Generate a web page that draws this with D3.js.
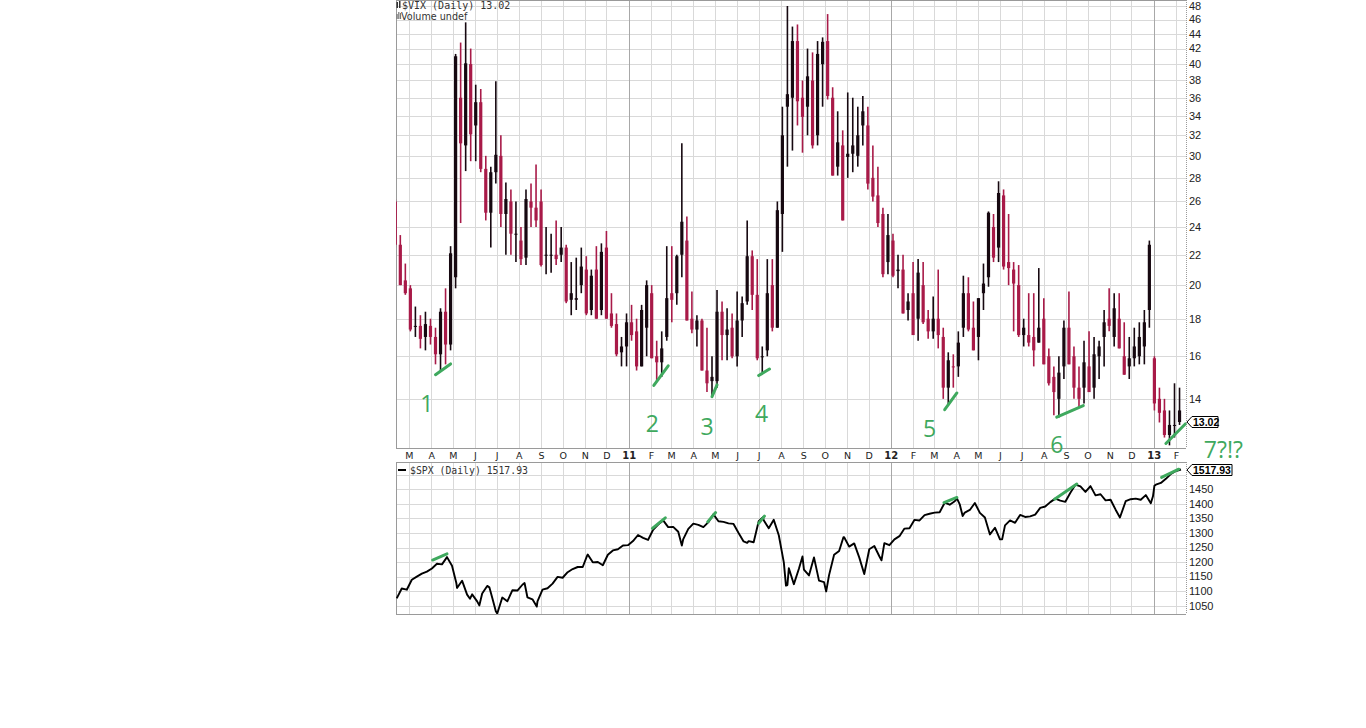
<!DOCTYPE html>
<html>
<head>
<meta charset="utf-8">
<script src="https://cdn.jsdelivr.net/npm/d3@7"></script>
<style>
	body { margin: 0; background: #fff; }
	svg { display: block; }
</style>
</head>
<body>
<script>
(function () {
	"use strict";

	// weekly VIX bars, one per week (Friday close), Feb 2010 - Feb 2013
	let vixOpen = [
		26.0, 22.7, 20.3, 19.8, 17.6, 17.6, 17.0, 17.6, 17.0, 16.1, 18.4, 16.6, 20.5, 36.0, 31.0, 40.0, 33.0, 35.5, 28.8, 25.1, 28.5, 30.0, 25.0, 26.0, 23.5, 23.0, 21.8, 26.0, 25.5, 26.0, 22.0, 22.0, 22.0, 22.0, 22.5, 19.5, 19.2, 20.0, 21.0, 18.5, 21.0, 18.5, 22.5, 18.3, 17.7, 16.2, 16.5,
		17.8, 17.3, 15.5, 17.5, 19.5, 16.0, 15.7, 17.0, 19.5, 19.5, 22.0, 23.0, 18.0, 17.4, 17.9, 15.3, 15.0, 14.8, 18.4, 17.1, 17.5, 16.0, 17.9, 19.0, 21.9, 19.4, 16.0, 16.3, 20.0, 17.5, 25.0, 35.0, 36.0, 43.0, 36.0, 35.0, 38.0, 32.0, 40.0, 43.0, 36.0, 29.0, 31.0, 29.9, 31.0, 30.0, 33.0, 33.0, 28.0, 26.5, 25.0, 21.5,
		23.0, 21.0, 21.0, 19.0, 19.5, 18.0, 20.0, 18.0, 18.0, 18.0, 17.0, 14.5, 15.5, 15.5, 17.5, 19.5, 17.5, 17.0, 19.5, 20.5, 24.0, 22.5, 26.5, 21.5, 21.0, 20.0, 17.5, 17.1, 17.0, 17.5, 18.0, 16.0, 15.0, 14.0, 15.5, 17.5, 16.0, 14.5, 14.5, 15.5, 14.5, 16.0, 17.0, 18.0, 17.0, 18.0, 16.0, 15.5, 16.5, 16.0, 16.5, 18.5,
		15.9, 14.0, 13.5, 12.5, 12.9, 13.5
	];
	let vixHigh = [
		26.2, 23.4, 21.4, 20.0, 18.7, 18.2, 18.4, 18.0, 17.5, 18.6, 19.8, 22.6, 41.3, 42.8, 45.6, 42.0, 37.5, 37.0, 30.0, 29.0, 37.9, 32.0, 27.6, 27.0, 26.0, 24.0, 27.0, 27.5, 29.2, 27.0, 24.0, 23.5, 24.5, 24.0, 22.7, 21.5, 21.8, 22.5, 21.9, 21.0, 22.6, 22.8, 23.7, 19.5, 18.3, 17.0, 18.3,
		18.8, 18.0, 18.8, 20.3, 20.0, 16.8, 17.3, 22.6, 22.6, 22.0, 31.2, 24.8, 19.6, 18.2, 18.0, 17.5, 16.0, 19.7, 19.0, 18.6, 18.3, 19.6, 19.3, 24.5, 22.3, 21.7, 16.5, 21.7, 21.7, 26.0, 35.0, 48.0, 45.0, 45.3, 38.0, 42.0, 41.5, 43.0, 43.5, 46.8, 37.2, 34.5, 32.5, 36.6, 36.0, 35.0, 36.2, 35.0, 31.0, 29.0, 25.5, 25.0,
		23.5, 22.0, 22.0, 19.5, 21.5, 21.7, 21.5, 18.5, 19.3, 21.0, 17.5, 16.2, 16.1, 17.3, 20.6, 20.5, 19.0, 19.2, 21.4, 25.2, 25.0, 27.7, 27.0, 25.0, 21.5, 21.3, 18.0, 19.5, 19.5, 21.1, 19.2, 16.4, 15.5, 16.0, 17.9, 19.6, 16.5, 15.5, 16.8, 17.3, 17.0, 16.8, 18.5, 19.8, 19.5, 19.5, 17.8, 17.0, 17.5, 17.8, 18.5, 23.0,
		16.0, 14.5, 14.0, 13.5, 14.7, 14.5
	];
	let vixLow = [
		22.5, 20.0, 19.4, 17.3, 17.0, 16.4, 16.3, 16.6, 15.6, 15.3, 15.6, 16.3, 19.8, 24.3, 28.6, 29.5, 29.5, 28.5, 24.5, 22.5, 27.5, 24.0, 22.0, 22.0, 21.5, 21.3, 21.3, 24.0, 24.0, 21.2, 20.7, 20.8, 21.3, 21.5, 18.9, 18.2, 18.5, 19.5, 18.2, 18.2, 18.0, 18.2, 18.0, 17.5, 16.0, 15.5, 15.5,
		16.8, 15.3, 15.5, 16.0, 15.9, 14.8, 15.0, 16.8, 17.8, 18.8, 20.5, 17.9, 17.2, 16.5, 15.3, 14.3, 14.1, 14.5, 15.8, 15.8, 15.9, 15.5, 17.0, 18.8, 18.5, 15.8, 15.2, 16.0, 17.3, 17.5, 22.2, 29.0, 30.5, 33.0, 30.3, 32.0, 30.7, 31.0, 35.0, 35.8, 28.2, 28.2, 24.5, 28.0, 28.5, 29.0, 31.0, 27.0, 26.0, 24.0, 20.5, 20.7,
		20.5, 19.8, 18.3, 17.9, 17.1, 16.8, 17.7, 16.9, 16.9, 16.4, 14.0, 13.7, 14.5, 15.0, 17.0, 17.3, 16.3, 15.8, 18.5, 19.9, 21.5, 21.5, 21.0, 20.0, 17.3, 17.0, 16.5, 16.5, 15.5, 16.7, 15.6, 14.6, 13.3, 13.2, 14.9, 15.6, 14.0, 13.6, 13.8, 14.3, 14.0, 14.9, 15.5, 17.3, 16.5, 16.4, 15.1, 14.9, 15.5, 15.6, 15.6, 17.5,
		13.5, 13.0, 12.4, 12.1, 12.4, 12.9
	];
	let vixClose = [
		22.7, 20.0, 19.5, 17.4, 17.6, 16.9, 17.7, 17.0, 16.1, 18.4, 16.6, 22.1, 41.0, 31.2, 40.1, 32.1, 35.5, 28.8, 25.1, 28.5, 30.1, 25.0, 26.2, 23.5, 23.5, 21.7, 26.2, 25.5, 24.5, 21.3, 22.0, 22.0, 21.7, 22.5, 19.0, 19.1, 19.1, 21.2, 18.3, 20.6, 18.0, 22.2, 18.0, 17.6, 16.1, 16.5, 17.8,
		17.1, 15.5, 18.5, 20.0, 15.9, 15.7, 16.4, 19.2, 19.1, 21.9, 24.4, 17.9, 17.4, 17.9, 15.3, 14.7, 14.8, 18.4, 17.1, 17.4, 16.0, 17.9, 18.9, 21.9, 19.4, 15.9, 16.0, 19.5, 17.5, 25.3, 32.0, 36.4, 43.0, 35.6, 33.9, 38.5, 31.0, 41.3, 42.9, 36.2, 28.2, 31.3, 24.5, 30.2, 30.2, 32.0, 34.5, 27.5, 26.4, 24.3, 20.7, 23.4,
		20.6, 20.9, 18.3, 18.5, 17.1, 20.8, 17.8, 17.3, 17.3, 17.1, 14.5, 15.8, 15.5, 16.7, 19.5, 17.4, 16.3, 19.2, 20.1, 25.1, 21.8, 26.7, 21.2, 21.1, 20.1, 17.1, 17.1, 16.7, 16.3, 16.7, 15.6, 14.7, 14.3, 15.2, 17.5, 15.6, 14.5, 14.0, 15.7, 14.3, 16.1, 16.5, 17.8, 17.6, 18.6, 16.4, 15.1, 15.9, 15.9, 17.0, 17.8, 22.7,
		13.8, 13.4, 12.5, 12.9, 12.9, 13.02
	];

	// weekly S&P 500 closes, same weeks
	let spxClose = [
		1075, 1109, 1105, 1139, 1150, 1160, 1167, 1178, 1194, 1192, 1217, 1187, 1111, 1136, 1088, 1089, 1065, 1092, 1118, 1077, 1023, 1078, 1065, 1103, 1102, 1122, 1079, 1072, 1065, 1105, 1110, 1126, 1149, 1146, 1165, 1176, 1183, 1183, 1226, 1199, 1200, 1189, 1225, 1240, 1244, 1257, 1258,
		1272, 1293, 1283, 1276, 1311, 1329, 1343, 1320, 1321, 1304, 1279, 1314, 1332, 1328, 1320, 1337, 1364, 1340, 1338, 1333, 1331, 1300, 1271, 1272, 1268, 1340, 1344, 1316, 1345, 1292, 1199, 1179, 1124, 1177, 1174, 1154, 1216, 1136, 1131, 1155, 1225, 1238, 1285, 1253, 1264, 1216, 1159, 1244, 1255, 1220, 1265, 1258,
		1278, 1289, 1315, 1316, 1345, 1343, 1361, 1366, 1370, 1371, 1404, 1397, 1409, 1398, 1370, 1379, 1403, 1369, 1353, 1295, 1318, 1278, 1326, 1343, 1335, 1362, 1355, 1357, 1363, 1386, 1391, 1406, 1418, 1411, 1407, 1438, 1466, 1460, 1441, 1461, 1429, 1433, 1412, 1414, 1380, 1360, 1409, 1416, 1418, 1414, 1430, 1402,
		1466, 1472, 1486, 1503, 1513, 1517.93
	];
	// mid-week S&P turning points seen on the line
	let spxExtraDates = ['2010-05-06', '2010-05-25', '2010-06-07', '2010-06-21', '2010-06-30', '2010-08-09', '2010-08-26', '2010-11-04',
		'2011-03-16', '2011-06-15', '2011-07-07', '2011-08-08', '2011-08-10', '2011-08-31', '2011-10-03', '2011-10-27', '2011-12-19',
		'2012-04-02', '2012-04-10', '2012-06-04', '2012-11-15', '2012-12-31', '2013-01-02'];
	let spxExtraValues = [1128, 1074, 1051, 1113, 1031, 1128, 1047, 1221,
		1257, 1266, 1354, 1119, 1121, 1219, 1099, 1285, 1206,
		1419, 1358, 1278, 1353, 1426, 1462];

	let vixTicks = [14, 16, 18, 20, 22, 24, 26, 28, 30, 32, 34, 36, 38, 40, 42, 44, 46, 48];
	let vixGrid = [12, 14, 16, 18, 20, 22, 24, 26, 28, 30, 32, 34, 36, 38, 40, 42, 44, 46, 48];
	let spxTicks = [1050, 1100, 1150, 1200, 1250, 1300, 1350, 1400, 1450];
	let spxGrid = [1050, 1100, 1150, 1200, 1250, 1300, 1350, 1400, 1450, 1500];
	let monthLetters = ['J', 'F', 'M', 'A', 'M', 'J', 'J', 'A', 'S', 'O', 'N', 'D'];

	// hand-drawn green notes: slope under each VIX low, slope over each SPX high
	let noteLabels = ['1', '2', '3', '4', '5', '6', '7?!?'];
	let noteLabelDates = ['2010-03-26', '2011-02-03', '2011-04-20', '2011-07-05', '2012-02-24', '2012-08-19', '2013-04-08'];
	let noteLabelValues = [13.45, 12.63, 12.51, 13.03, 12.43, 11.82, 11.64];
	let vixNoteFrom = ['2010-04-07', '2011-02-05', '2011-04-27', '2011-07-01', '2012-03-16', '2012-08-19', '2013-01-18'];
	let vixNoteFromValues = [15.10, 14.60, 14.10, 15.06, 13.53, 13.22, 12.17];
	let vixNoteTo = ['2010-04-28', '2011-02-25', '2011-05-04', '2011-07-16', '2012-04-02', '2012-09-25', '2013-02-14'];
	let vixNoteToValues = [15.62, 15.53, 14.63, 15.37, 14.26, 13.71, 12.94];
	let spxNoteFrom = ['2010-04-03', '2011-02-03', '2011-04-21', '2011-07-01', '2012-03-15', '2012-08-16', '2013-01-12'];
	let spxNoteFromValues = [1207, 1316, 1338, 1333, 1404, 1416, 1491];
	let spxNoteTo = ['2010-04-23', '2011-02-21', '2011-05-02', '2011-07-09', '2012-04-02', '2012-09-16', '2013-02-05'];
	let spxNoteToValues = [1228, 1352, 1370, 1358, 1422, 1468, 1519];

	let w = 1366;
	let h = 728;
	let left = 396, right = 1186;
	let vixTop = 0, vixBottom = 448;
	let spxTop = 462, spxBottom = 614;
	let green = '#3fa95e';
	let red = '#a81a48';
	let dark = '#160810';

	let parse = d3.timeParse('%Y-%m-%d');
	let weeks = d3.timeFriday.range(new Date(2010, 1, 12), new Date(2013, 1, 9));

	let x = d3.scaleTime()
		.domain([new Date(2010, 1, 11), new Date(2013, 1, 15)])
		.range([left, right]);
	let yVix = d3.scaleLog().domain([12, 48]).range([vixBottom, 6]);
	let ySpx = d3.scaleLinear().domain([1050, 1450]).range([605.7, 489.3]);

	let svg = d3.select('body').append('svg').attr('width', w).attr('height', h);

	let defs = svg.append('defs');
	defs.append('clipPath').attr('id', 'clipVix').append('rect')
		.attr('x', left).attr('y', vixTop).attr('width', right - left).attr('height', vixBottom - vixTop);
	defs.append('clipPath').attr('id', 'clipSpx').append('rect')
		.attr('x', left).attr('y', spxTop).attr('width', right - left).attr('height', spxBottom - spxTop);

	let months = d3.timeMonth.range(new Date(2010, 2, 1), new Date(2013, 1, 15));

	// grids
	function grid(top, bottom, yScale, levels) {
		let g = svg.append('g');
		g.selectAll('line.h').data(levels).enter().append('line')
			.attr('x1', left).attr('x2', right)
			.attr('y1', (d) => Math.round(yScale(d)) + 0.5)
			.attr('y2', (d) => Math.round(yScale(d)) + 0.5)
			.attr('stroke', '#d9d9d9');
		g.selectAll('line.v').data(months).enter().append('line')
			.attr('x1', (d) => Math.round(x(d)) + 0.5)
			.attr('x2', (d) => Math.round(x(d)) + 0.5)
			.attr('y1', top).attr('y2', bottom)
			.attr('stroke', (d) => d.getMonth() === 0 ? '#a8a8a8' : '#d9d9d9');
		g.append('line').attr('x1', left + 0.5).attr('x2', left + 0.5).attr('y1', top).attr('y2', bottom).attr('stroke', '#9a9a9a');
		g.append('line').attr('x1', left).attr('x2', right).attr('y1', top + 0.5).attr('y2', top + 0.5).attr('stroke', '#9a9a9a');
		g.append('line').attr('x1', left).attr('x2', right).attr('y1', bottom + 0.5).attr('y2', bottom + 0.5).attr('stroke', '#9a9a9a');
		g.append('line').attr('x1', right + 0.5).attr('x2', right + 0.5).attr('y1', top).attr('y2', bottom)
			.attr('stroke', '#9a9a9a').attr('stroke-dasharray', '1,1');
	}
	grid(vixTop, vixBottom, yVix, vixGrid);
	grid(spxTop, spxBottom, ySpx, spxGrid);

	// month labels between the panels
	svg.append('g').selectAll('text').data(months).enter().append('text')
		.attr('x', (d) => x(d) + 0.5)
		.attr('y', 459)
		.attr('text-anchor', 'middle')
		.style('font-family', '"DejaVu Sans", Verdana, sans-serif')
		.style('font-size', (d) => d.getMonth() === 0 ? '10px' : '9.5px')
		.style('font-weight', (d) => d.getMonth() === 0 ? 'bold' : 'normal')
		.style('fill', '#222')
		.text((d) => d.getMonth() === 0 ? d3.timeFormat('%y')(d) : monthLetters[d.getMonth()]);

	// right axes
	function axisLabels(yScale, ticks) {
		svg.append('g').selectAll('text').data(ticks).enter().append('text')
			.attr('x', right + 3)
			.attr('y', (d) => yScale(d))
			.attr('dy', '0.35em')
			.style('font-family', '"Liberation Sans", Arial, sans-serif')
			.style('font-size', '11px')
			.style('fill', '#222')
			.text((d) => d);
	}
	axisLabels(yVix, vixTicks);
	axisLabels(ySpx, spxTicks);

	// VIX candles
	let bars = weeks.map(function (d, i) {
		let prev = i === 0 ? vixOpen[0] : vixClose[i - 1];
		return { date: d3.timeDay.offset(d, -2), o: vixOpen[i], hi: vixHigh[i], lo: vixLow[i], c: vixClose[i], up: vixClose[i] >= prev };
	});
	let candles = svg.append('g').attr('clip-path', 'url(#clipVix)')
		.selectAll('g').data(bars).enter().append('g');
	candles.append('line')
		.attr('x1', (d) => x(d.date)).attr('x2', (d) => x(d.date))
		.attr('y1', (d) => yVix(d.hi)).attr('y2', (d) => yVix(d.lo))
		.attr('stroke', (d) => d.up ? dark : red)
		.attr('stroke-width', 1.6);
	candles.append('rect')
		.attr('x', (d) => x(d.date) - 1.6)
		.attr('width', 3.2)
		.attr('y', (d) => yVix(Math.max(d.o, d.c)))
		.attr('height', (d) => Math.max(1, yVix(Math.min(d.o, d.c)) - yVix(Math.max(d.o, d.c))))
		.attr('fill', (d) => d.up ? dark : red);

	// SPX line
	let spxPoints = weeks.map((d, i) => ({ date: d, v: spxClose[i] }))
		.concat(spxExtraDates.map((d, i) => ({ date: parse(d), v: spxExtraValues[i] })))
		.sort((a, b) => a.date - b.date);
	let line = d3.line().x((d) => x(d.date)).y((d) => ySpx(d.v));
	svg.append('path')
		.datum(spxPoints)
		.attr('clip-path', 'url(#clipSpx)')
		.attr('d', line)
		.attr('fill', 'none')
		.attr('stroke', '#000')
		.attr('stroke-width', 1.9)
		.attr('stroke-linejoin', 'round');

	// green notes
	let notes = svg.append('g');
	function noteLines(from, fromV, to, toV, yScale) {
		notes.selectAll(null).data(from).enter().append('line')
			.attr('x1', (d) => x(parse(d)))
			.attr('y1', (d, i) => yScale(fromV[i]))
			.attr('x2', (d, i) => x(parse(to[i])))
			.attr('y2', (d, i) => yScale(toV[i]))
			.attr('stroke', green)
			.attr('stroke-width', 3)
			.attr('stroke-linecap', 'round');
	}
	noteLines(vixNoteFrom, vixNoteFromValues, vixNoteTo, vixNoteToValues, yVix);
	noteLines(spxNoteFrom, spxNoteFromValues, spxNoteTo, spxNoteToValues, ySpx);
	notes.selectAll('text').data(noteLabels).enter().append('text')
		.attr('x', (d, i) => x(parse(noteLabelDates[i])))
		.attr('y', (d, i) => yVix(noteLabelValues[i]))
		.attr('text-anchor', 'middle')
		.style('font-family', '"Open Sans", "Liberation Sans", sans-serif')
		.style('font-size', '23px')
		.style('fill', green)
		.text((d) => d);

	// last value boxes
	function valueBox(yPos, label, boxW) {
		let g = svg.append('g').attr('transform', 'translate(' + (right + 1) + ',' + Math.round(yPos) + ')');
		g.append('path')
			.attr('d', 'M0,0 L5,-5.5 L' + boxW + ',-5.5 L' + boxW + ',5.5 L5,5.5 Z')
			.attr('fill', '#fff').attr('stroke', '#000').attr('stroke-width', 1);
		g.append('text')
			.attr('x', 6).attr('y', 0).attr('dy', '0.36em')
			.style('font-family', '"Liberation Sans", Arial, sans-serif')
			.style('font-size', '10.5px').style('font-weight', 'bold')
			.text(label);
	}
	valueBox(yVix(vixClose[vixClose.length - 1]), '13.02', 31);
	valueBox(ySpx(spxClose[spxClose.length - 1]), '1517.93', 45);

	// panel titles
	let head = svg.append('g').style('fill', '#333');
	head.append('text').attr('x', 402).attr('y', 8.5)
		.style('font-family', '"DejaVu Sans Mono", monospace').style('font-size', '10px')
		.text('$VIX (Daily) 13.02');
	head.append('text').attr('x', 401).attr('y', 20)
		.style('font-family', '"DejaVu Sans", Verdana, sans-serif').style('font-size', '9.6px')
		.text('Volume undef');
	head.append('text').attr('x', 410).attr('y', 474)
		.style('font-family', '"DejaVu Sans Mono", monospace').style('font-size', '9.8px')
		.text('$SPX (Daily) 1517.93');
	// little legend glyphs
	head.append('rect').attr('x', 396.5).attr('y', 2).attr('width', 1.5).attr('height', 6).attr('fill', '#333');
	head.append('rect').attr('x', 399).attr('y', 1).attr('width', 1.5).attr('height', 7).attr('fill', '#333');
	head.append('rect').attr('x', 396.5).attr('y', 14).attr('width', 1.2).attr('height', 5).attr('fill', '#777');
	head.append('rect').attr('x', 398.2).attr('y', 12).attr('width', 1.2).attr('height', 7).attr('fill', '#777');
	head.append('rect').attr('x', 399.9).attr('y', 13).attr('width', 1.2).attr('height', 6).attr('fill', '#777');
	head.append('rect').attr('x', 398).attr('y', 469).attr('width', 8).attr('height', 2).attr('fill', '#000');
})();
</script>
</body>
</html>
